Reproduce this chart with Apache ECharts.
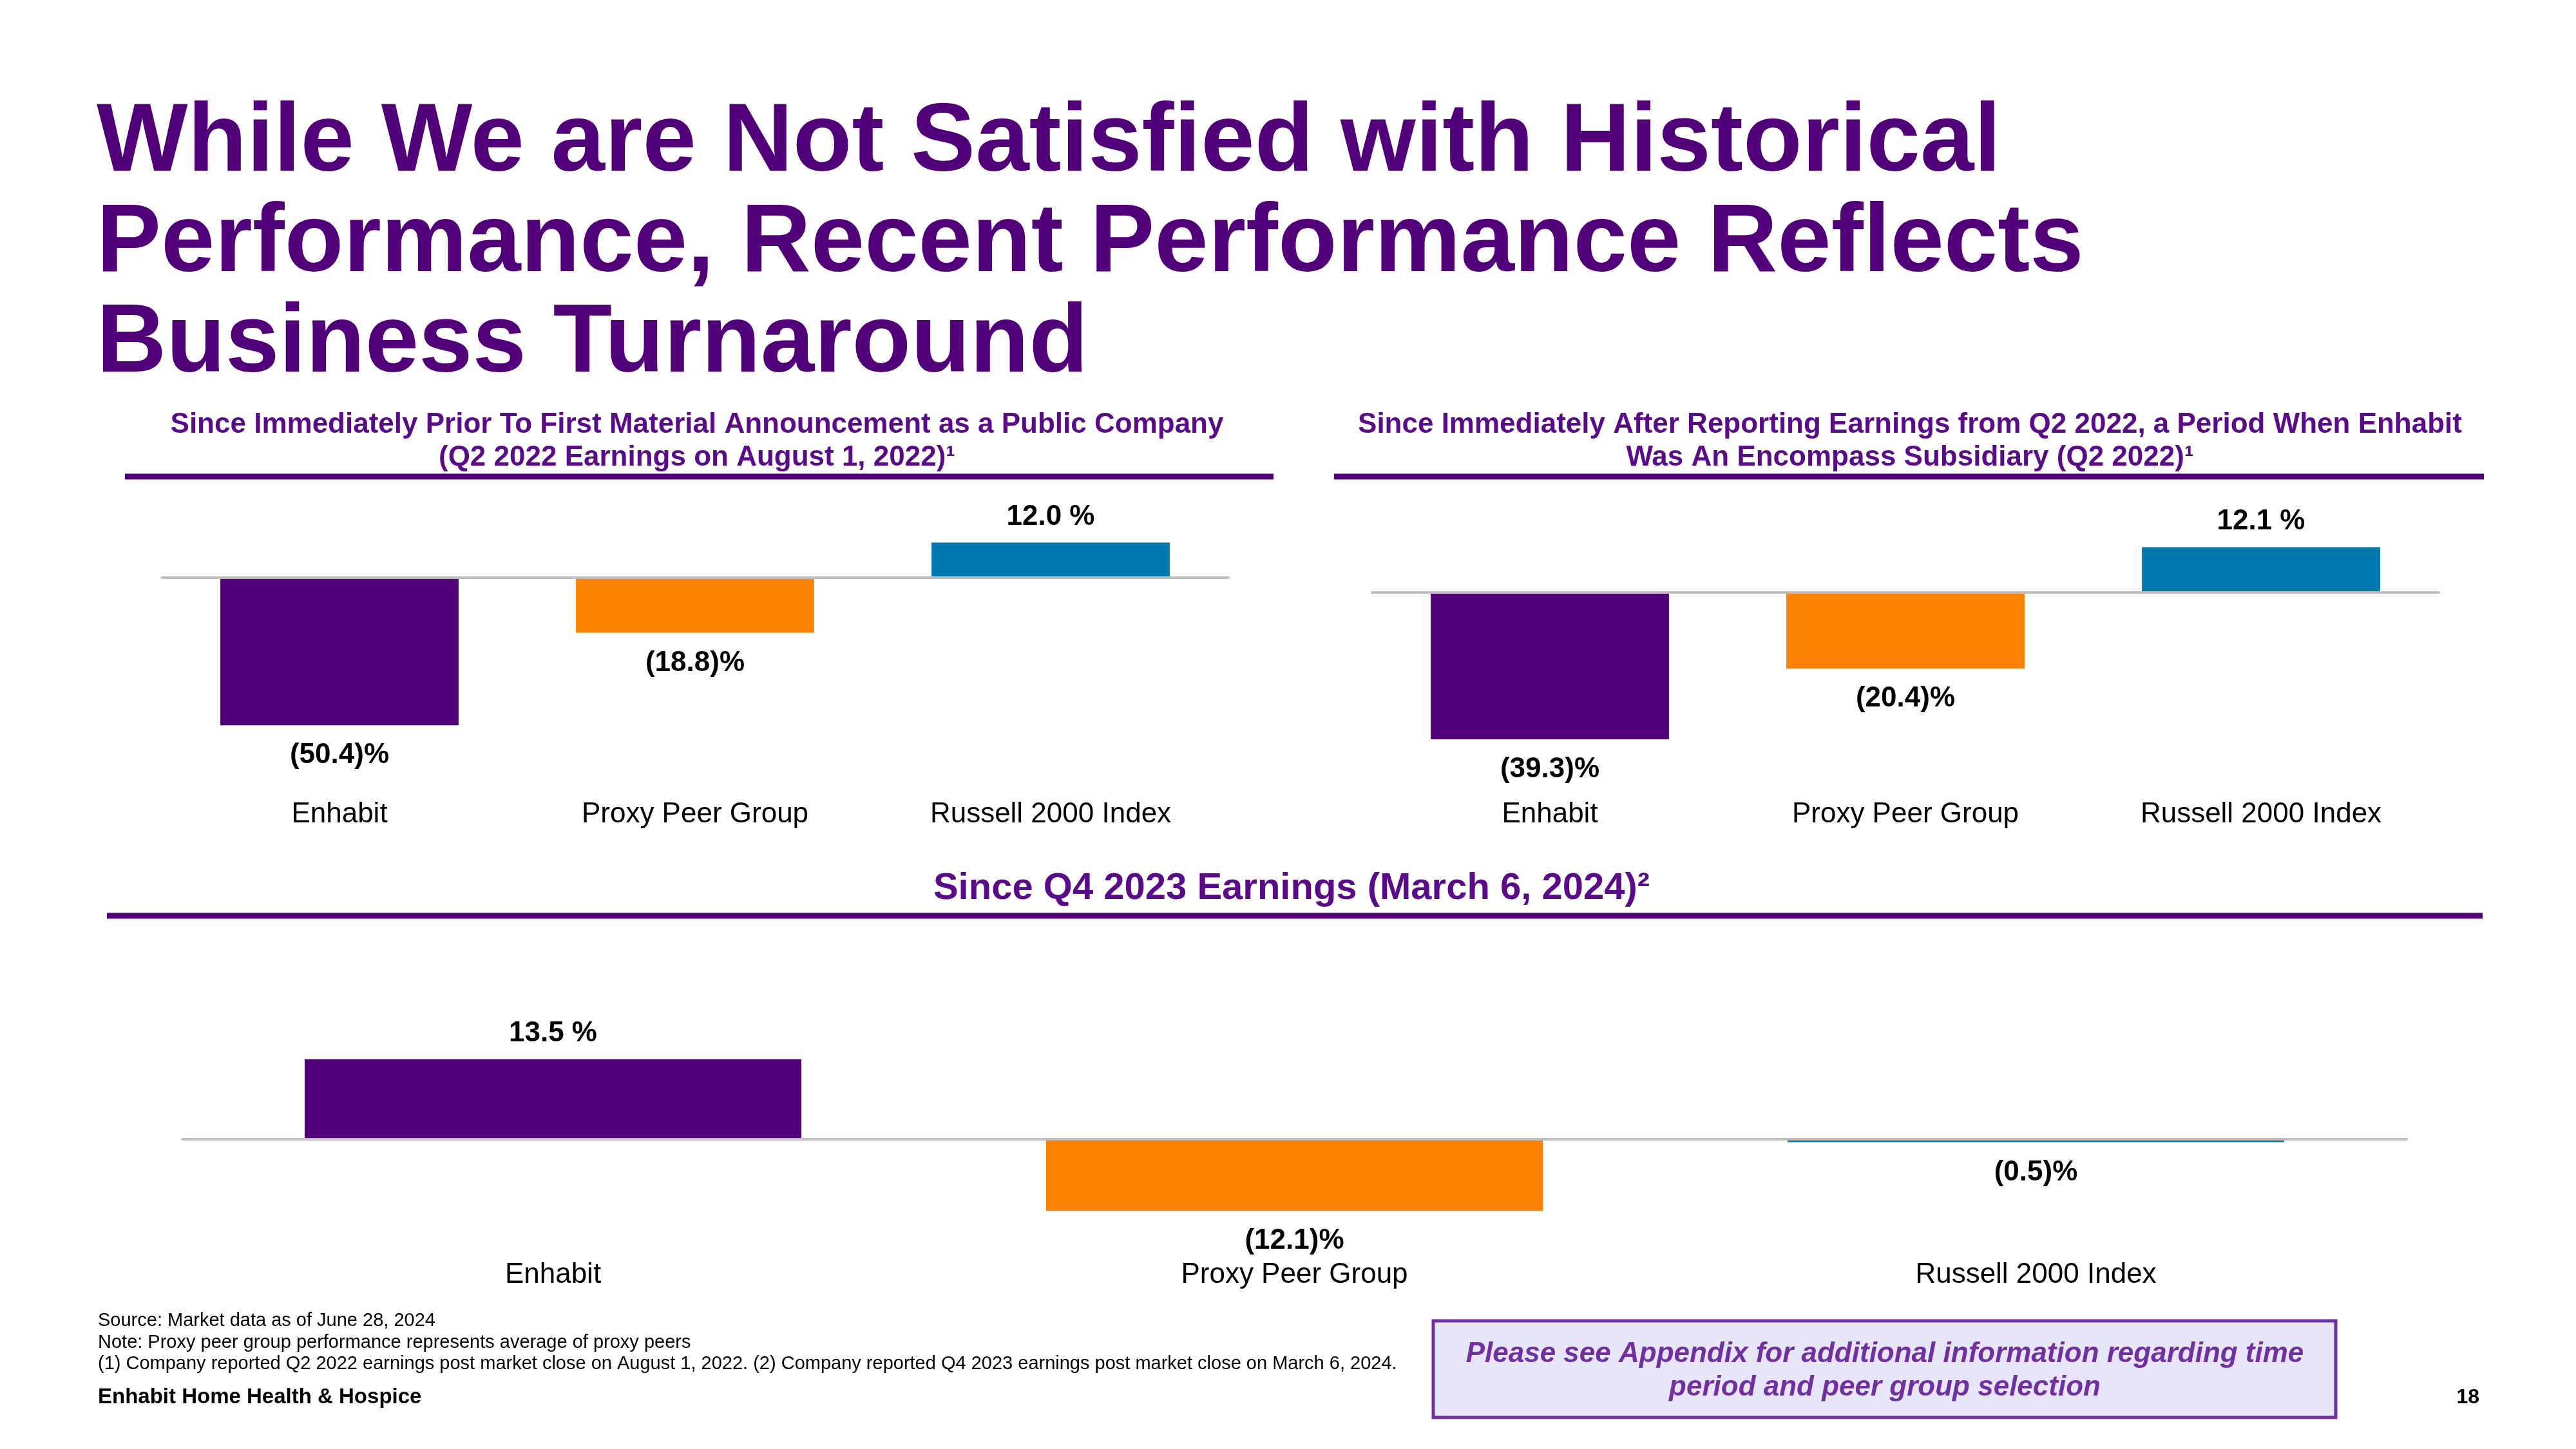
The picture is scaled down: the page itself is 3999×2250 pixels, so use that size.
<!DOCTYPE html>
<html>
<head>
<meta charset="utf-8">
<script src="https://cdn.jsdelivr.net/npm/echarts@6/dist/echarts.min.js"></script>
<style>
html,body{margin:0;padding:0;background:#fff;}
#chart{width:3999px;height:2250px;}
</style>
</head>
<body>
<div id="chart"></div>
<script>
// ---- data ----
const categories = ['Enhabit', 'Proxy Peer Group', 'Russell 2000 Index'];
const sinceAnnouncement = [-50.4, -18.8, 12.0];
const sinceQ2Earnings = [-39.3, -20.4, 12.1];
const sinceQ4Earnings = [13.5, -12.1, -0.5];
const barColors = ['#51007A', '#FF8303', '#0077AD'];

const FONT = '"Liberation Sans", Arial, sans-serif';
const PURPLE = '#51007A';
const SUBPURPLE = '#5A0C88';

function fmt(v) {
  return v >= 0 ? v.toFixed(1) + ' %' : '(' + Math.abs(v).toFixed(1) + ')%';
}
function buildData(vals) {
  return vals.map(v => ({
    value: v,
    label: { position: v >= 0 ? 'top' : 'bottom', distance: v >= 0 ? 18 : 25 }
  }));
}

const grids = [
  { left: 251, width: 1656, top: 806, height: 364 },
  { left: 2130, width: 1656, top: 804, height: 406 },
  { left: 283, width: 3453, top: 1585, height: 368 }
];
const yRanges = [[-60, 20], [-50, 20], [-20, 20]];
const labelMargins = [73, 33, 5];
const seriesVals = [sinceAnnouncement, sinceQ2Earnings, sinceQ4Earnings];

const xAxes = [];
const yAxes = [];
const series = [];
grids.forEach((g, i) => {
  xAxes.push({
    gridIndex: i, type: 'category', data: categories, z: 5,
    axisLine: { onZero: true, lineStyle: { color: '#BFBFBF', width: 4 } },
    axisTick: { show: false }, axisLabel: { show: false }, splitLine: { show: false }
  });
  xAxes.push({
    gridIndex: i, type: 'category', data: categories, position: 'bottom',
    axisLine: { show: false, onZero: false }, axisTick: { show: false }, splitLine: { show: false },
    axisLabel: { margin: labelMargins[i], fontSize: 44, color: '#000', fontFamily: FONT }
  });
  yAxes.push({
    gridIndex: i, type: 'value', min: yRanges[i][0], max: yRanges[i][1],
    axisLine: { show: false }, axisTick: { show: false }, axisLabel: { show: false },
    splitLine: { show: false }
  });
  series.push({
    type: 'bar', xAxisIndex: i * 2, yAxisIndex: i,
    barCategoryGap: '33%',
    data: buildData(seriesVals[i]),
    itemStyle: { color: p => barColors[p.dataIndex] },
    label: {
      show: true, fontSize: 44, fontWeight: 'bold', color: '#000', fontFamily: FONT,
      formatter: p => fmt(p.value)
    },
    animation: false
  });
});

function txt(text, x, y, size, opts) {
  opts = opts || {};
  return {
    type: 'text', x: x, y: y, silent: true,
    style: {
      text: text,
      font: (opts.italic ? 'italic ' : '') + (opts.bold ? 'bold ' : '') + size + 'px ' + FONT,
      fill: opts.color || '#000',
      align: opts.align || 'left',
      verticalAlign: 'middle'
    }
  };
}
function hline(x1, x2, y, w, color) {
  return { type: 'line', silent: true, shape: { x1: x1, y1: y, x2: x2, y2: y }, style: { stroke: color, lineWidth: w } };
}

const graphic = [
  txt('While We are Not Satisfied with Historical', 150, 224, 150, { bold: true, color: PURPLE }),
  txt('Performance, Recent Performance Reflects', 150, 380, 150, { bold: true, color: PURPLE }),
  txt('Business Turnaround', 150, 536, 150, { bold: true, color: PURPLE }),

  txt('Since Immediately Prior To First Material Announcement as a Public Company', 1082, 660, 44, { bold: true, color: SUBPURPLE, align: 'center' }),
  txt('(Q2 2022 Earnings on August 1, 2022)\u00B9', 1082, 711, 44, { bold: true, color: SUBPURPLE, align: 'center' }),
  hline(194, 1977, 740, 9, PURPLE),

  txt('Since Immediately After Reporting Earnings from Q2 2022, a Period When Enhabit', 2965, 660, 44, { bold: true, color: SUBPURPLE, align: 'center' }),
  txt('Was An Encompass Subsidiary (Q2 2022)\u00B9', 2965, 711, 44, { bold: true, color: SUBPURPLE, align: 'center' }),
  hline(2071, 3856, 740, 9, PURPLE),

  txt('Since Q4 2023 Earnings (March 6, 2024)\u00B2', 2005, 1380, 58, { bold: true, color: SUBPURPLE, align: 'center' }),
  hline(166, 3854, 1422, 9, PURPLE),

  txt('Source: Market data as of June 28, 2024', 152, 2051, 29),
  txt('Note: Proxy peer group performance represents average of proxy peers', 152, 2085, 29),
  txt('(1) Company reported Q2 2022 earnings post market close on August 1, 2022. (2) Company reported Q4 2023 earnings post market close on March 6, 2024.', 152, 2118, 29),
  txt('Enhabit Home Health & Hospice', 152, 2170, 33, { bold: true }),
  txt('18', 3849, 2170, 32, { bold: true, align: 'right' }),

  { type: 'rect', silent: true, shape: { x: 2225, y: 2051, width: 1401, height: 150 },
    style: { fill: '#E7E5F8', stroke: '#7030A0', lineWidth: 5 } },
  txt('Please see Appendix for additional information regarding time', 2926, 2103, 44, { bold: true, italic: true, color: '#7030A0', align: 'center' }),
  txt('period and peer group selection', 2926, 2155, 44, { bold: true, italic: true, color: '#7030A0', align: 'center' })
];

const chart = echarts.init(document.getElementById('chart'), null, { renderer: 'canvas' });
chart.setOption({
  animation: false,
  backgroundColor: '#fff',
  grid: grids,
  xAxis: xAxes,
  yAxis: yAxes,
  series: series,
  graphic: graphic
});
</script>
</body>
</html>
